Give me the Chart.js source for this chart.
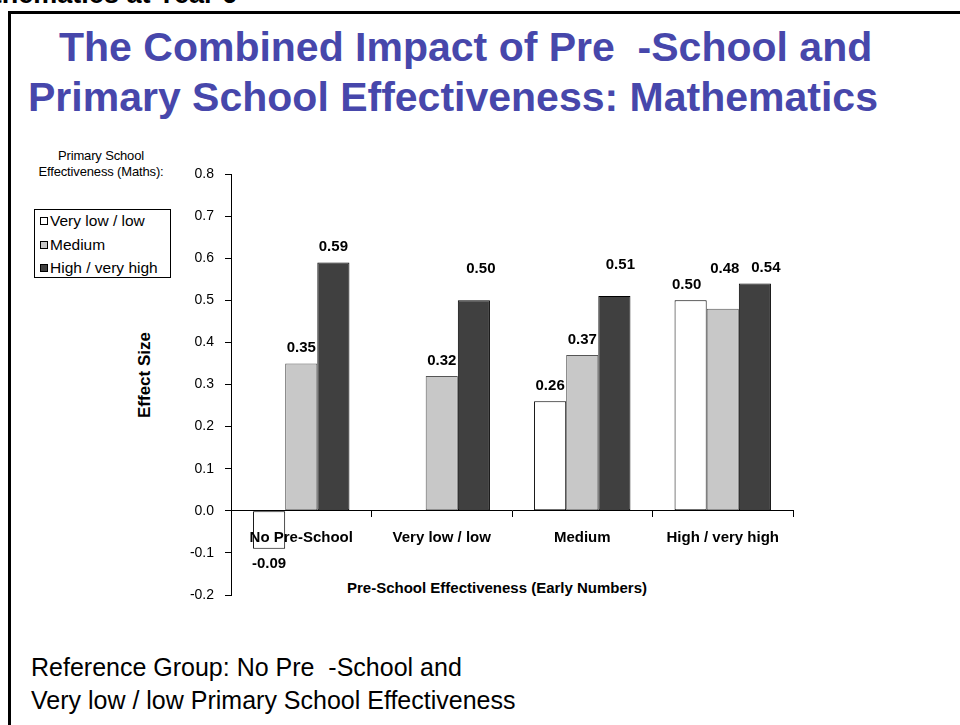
<!DOCTYPE html>
<html>
<head>
<meta charset="utf-8">
<script src="https://cdn.jsdelivr.net/npm/chart.js@4.4.1/dist/chart.umd.min.js"></script>
<style>
  body { margin: 0; width: 960px; height: 725px; overflow: hidden; background: #fff;
         font-family: "Liberation Sans", Arial, sans-serif; position: relative; }
  .abs { position: absolute; white-space: nowrap; }
  #frame { left: 8px; top: 11px; width: 1000px; height: 800px; border: 3px solid #000; box-sizing: border-box; }
  #cut { right: 723px; top: -19px; font-size: 27px; line-height: 27px; font-weight: bold; color: #000; }
  .title { font-size: 41px; font-weight: bold; color: #4747ab; line-height: 44px; }
  #legendTitle { left: 36px; top: 148px; width: 130px; text-align: center; font-size: 13px; line-height: 16px; letter-spacing: -0.15px; color: #000; }
  #legend { left: 34px; top: 209px; width: 137px; height: 69px; border: 1px solid #000; box-sizing: border-box; padding-top: 0px; }
  .item { font-size: 15.5px; line-height: 23.5px; padding-left: 5px; color: #000; margin-top: -1px; }
  .item + .item { margin-top: 0; }
  .sw { display: inline-block; width: 6px; height: 6px; border: 1px solid #000; margin-right: 2px; vertical-align: 1px; }
  #yTitle { left: 145px; top: 375px; transform: translate(-50%, -50%) rotate(-90deg); font-size: 17px; font-weight: bold; }
  #xTitle { left: 497px; top: 587px; transform: translate(-50%, -50%); font-size: 15px; font-weight: bold; }
  .note { left: 31px; font-size: 25px; line-height: 30px; color: #000; }
  #chartBox { left: 0; top: 0; width: 960px; height: 725px; }
</style>
</head>
<body>
<div id="frame" class="abs"></div>
<div id="cut" class="abs">Mathematics at Year 6</div>
<div class="abs title" style="left:59px; top:25px;">The Combined Impact of Pre&nbsp; -School and</div>
<div class="abs title" style="left:28px; top:75px;">Primary School Effectiveness: Mathematics</div>

<div id="legendTitle" class="abs">Primary School<br>Effectiveness (Maths):</div>
<div id="legend" class="abs"></div>
<div id="yTitle" class="abs">Effect Size</div>
<div id="xTitle" class="abs">Pre-School Effectiveness (Early Numbers)</div>

<div class="abs note" style="top:652px;">Reference Group: No Pre&nbsp; -School and</div>
<div class="abs note" style="top:685px;">Very low / low Primary School Effectiveness</div>

<div id="chartBox" class="abs"><canvas id="chart" width="960" height="725"></canvas></div>

<script>
// categorias (efectividad del preescolar)
const categories = ['No Pre-School', 'Very low / low', 'Medium', 'High / very high'];
// series (efectividad de la primaria)
const seriesNames = ['Very low / low', 'Medium', 'High / very high'];
const veryLowLow = [-0.09, null, 0.26, 0.50];
const medium = [0.35, 0.32, 0.37, 0.48];
const highVeryHigh = [0.59, 0.50, 0.51, 0.54];
// ticks del eje Y
const yTicks = [-0.2, -0.1, 0.0, 0.1, 0.2, 0.3, 0.4, 0.5, 0.6, 0.7, 0.8];

const fills = ['#ffffff', '#c8c8c8', '#404040'];
const borders = ['#000000', '#555555', '#000000'];

// pequeños ajustes de posicion de algunas etiquetas (serie-categoria: [dx, dy])
const labelNudge = { '2-1': [7, -16], '2-2': [6, -16], '1-3': [2, -24], '2-3': [11, 0], '0-3': [-4, 0] };

// leyenda en HTML
const legend = document.getElementById('legend');
seriesNames.forEach(function(name, i) {
    const row = document.createElement('div');
    row.className = 'item';
    row.innerHTML = '<span class="sw" style="background:' + fills[i] + '"></span>' + name;
    legend.appendChild(row);
});

// etiquetas de valor sobre cada barra
const valueLabels = {
    id: 'valueLabels',
    afterDatasetsDraw(chart) {
        const ctx = chart.ctx;
        ctx.save();
        ctx.font = 'bold 15px "Liberation Sans", Arial, sans-serif';
        ctx.fillStyle = '#000';
        ctx.textAlign = 'center';
        chart.data.datasets.forEach(function(ds, di) {
            chart.getDatasetMeta(di).data.forEach(function(bar, i) {
                const v = ds.data[i];
                if (v === null) return;
                const n = labelNudge[di + '-' + i] || [0, 0];
                if (v < 0) {
                    ctx.textBaseline = 'top';
                    ctx.fillText(v.toFixed(2), bar.x + n[0], bar.y + 8 + n[1]);
                } else {
                    ctx.textBaseline = 'bottom';
                    ctx.fillText(v.toFixed(2), bar.x + n[0], bar.y - 8 + n[1]);
                }
            });
        });
        ctx.restore();
    }
};

const ctx = document.getElementById('chart').getContext('2d');

new Chart(ctx, {
    type: 'bar',
    data: {
        labels: categories,
        datasets: [veryLowLow, medium, highVeryHigh].map(function(values, i) {
            return {
                label: seriesNames[i],
                data: values,
                backgroundColor: fills[i],
                borderColor: borders[i],
                borderWidth: 1,
                borderSkipped: false,
                categoryPercentage: 0.686,
                barPercentage: 1.0
            };
        })
    },
    options: {
        responsive: false,
        animation: false,
        layout: { padding: { left: 171, right: 167, top: 174, bottom: 130 } },
        plugins: {
            legend: { display: false },
            tooltip: { enabled: false }
        },
        scales: {
            x: {
                position: { y: 0 },
                grid: { drawOnChartArea: false, tickLength: 6, color: '#000', offset: true, z: 1 },
                border: { color: '#000', width: 1, z: 1 },
                ticks: {
                    z: 1,
                    color: '#000',
                    padding: 12,
                    font: { family: '"Liberation Sans", Arial, sans-serif', size: 15, weight: 'bold' }
                }
            },
            y: {
                min: yTicks[0],
                max: yTicks[yTicks.length - 1],
                afterBuildTicks: function(scale) {
                    scale.ticks = yTicks.map(function(v) { return { value: v }; });
                },
                afterFit: function(scale) { scale.width = 60; },
                grid: { drawOnChartArea: false, tickLength: 6, color: '#000' },
                border: { color: '#000', width: 1 },
                ticks: {
                    color: '#000',
                    padding: 11,
                    font: { family: '"Liberation Sans", Arial, sans-serif', size: 14 },
                    callback: function(v) { return v.toFixed(1); }
                }
            }
        }
    },
    plugins: [valueLabels]
});
</script>
</body>
</html>
